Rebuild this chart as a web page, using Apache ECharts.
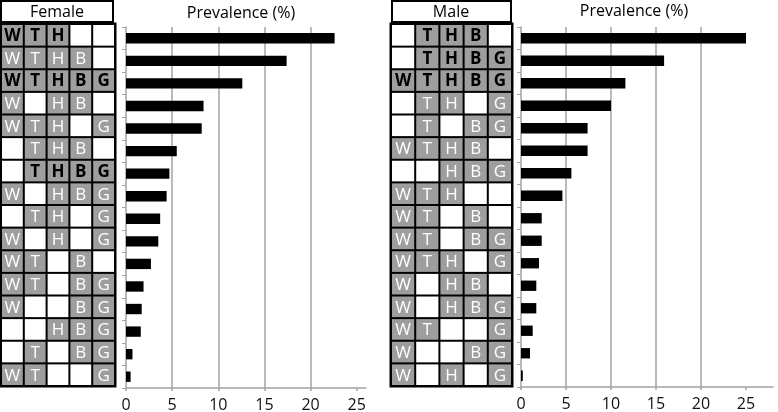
<!DOCTYPE html>
<html><head><meta charset="utf-8">
<script src="https://cdn.jsdelivr.net/npm/echarts@6.0.0/dist/echarts.min.js"></script>
<style>html,body{margin:0;padding:0;background:#fff}#c{width:778px;height:412px}</style>
</head><body><div id="c"></div>
<script>
const columns = ['W', 'T', 'H', 'B', 'G'];
const rowIds = ['1','2','3','4','5','6','7','8','9','10','11','12','13','14','15','16'];
const xTicks = [0, 5, 10, 15, 20, 25];

const femaleCombos = ['WTH','WTHB','WTHBG','WHB','WTHG','THB','THBG','WHBG','THG','WHG','WTB','WTBG','WBG','HBG','TBG','WTG'];
const femaleBold   = [1,0,1,0,0,0,1,0,0,0,0,0,0,0,0,0];
const femaleValues = [22.6,17.4,12.6,8.4,8.2,5.5,4.7,4.4,3.7,3.5,2.7,1.9,1.7,1.6,0.7,0.5];

const maleCombos = ['THB','THBG','WTHBG','THG','TBG','WTHB','HBG','WTH','WTB','WTBG','WTHG','WHB','WHBG','WTG','WBG','WHG'];
const maleBold   = [1,1,1,0,0,0,0,0,0,0,0,0,0,0,0,0];
const maleValues = [25.0,15.9,11.6,10.0,7.4,7.4,5.6,4.6,2.3,2.3,2.0,1.7,1.7,1.3,1.0,0.2];

const FONT = '"Open Sans", "Noto Sans", sans-serif';
const GRAY = '#a3a3a3';

function cellData(combos, bold) {
  const out = [];
  combos.forEach((c, i) => {
    columns.forEach((col, j) => {
      out.push([j, i, c.indexOf(col) >= 0 ? 1 : 0, bold[i]]);
    });
  });
  return out;
}

function renderCell(params, api) {
  const c = api.coord([api.value(0), api.value(1)]);
  const s = api.size([1, 1]);
  const present = api.value(2), bold = api.value(3);
  const children = [{
    type: 'rect',
    shape: { x: c[0] - s[0] / 2 + 1, y: c[1] - s[1] / 2 + 1, width: s[0] - 2, height: s[1] - 2 },
    style: { fill: present ? '#9e9e9e' : '#ffffff' }
  }];
  if (present) {
    children.push({
      type: 'text',
      style: {
        text: columns[api.value(0)], x: c[0], y: c[1] + 1,
        align: 'center', verticalAlign: 'middle',
        fill: bold ? '#000' : '#fff',
        font: (bold ? 'bold ' : '') + '17px ' + FONT
      }
    });
  }
  return { type: 'group', children };
}

const panels = [
  { table: { left: 1, top: 24, width: 114, height: 362 }, bars: { left: 126, top: 27, width: 240, height: 361 }, max: 26, combos: femaleCombos, bold: femaleBold, values: femaleValues },
  { table: { left: 391, top: 24, width: 121, height: 362 }, bars: { left: 521, top: 27, width: 252, height: 360 }, max: 28, combos: maleCombos, bold: maleBold, values: maleValues }
];

const grid = [], xAxis = [], yAxis = [], series = [];
panels.forEach((p, k) => {
  grid.push(Object.assign({ show: true, backgroundColor: '#000', borderColor: '#000', borderWidth: 3, outerBoundsMode: 'none', containLabel: false }, p.table));
  grid.push(Object.assign({ show: false, outerBoundsMode: 'none', containLabel: false }, p.bars));
  const gt = k * 2, gb = k * 2 + 1;
  xAxis.push({ gridIndex: gt, type: 'category', data: columns, show: false });
  yAxis.push({ gridIndex: gt, type: 'category', data: rowIds, inverse: true, show: false });
  xAxis.push({
    gridIndex: gb, type: 'value', min: xTicks[0], max: p.max, interval: xTicks[1] - xTicks[0],
    axisLine: { show: true, lineStyle: { color: GRAY, width: 1.5 } },
    axisTick: { show: true, length: 3, customValues: xTicks, lineStyle: { color: GRAY, width: 1.5 } },
    splitLine: { show: true, showMinLine: false, showMaxLine: false, lineStyle: { color: GRAY, width: 1.5 } },
    axisLabel: { showMaxLabel: false, margin: 9, fontSize: 16, color: '#111', fontFamily: FONT,
      formatter: v => (xTicks.indexOf(v) >= 0 ? String(v) : '') }
  });
  yAxis.push({
    gridIndex: gb, type: 'category', data: rowIds, inverse: true,
    axisLine: { show: true, lineStyle: { color: GRAY, width: 1.5 } },
    axisTick: { show: true, length: 4, lineStyle: { color: GRAY, width: 1 } },
    axisLabel: { show: false }
  });
  series.push({
    type: 'custom', xAxisIndex: gt, yAxisIndex: gt, renderItem: renderCell,
    data: cellData(p.combos, p.bold), silent: true, animation: false
  });
  series.push({
    type: 'bar', xAxisIndex: gb, yAxisIndex: gb, data: p.values, barWidth: '46%',
    itemStyle: { color: '#000' }, silent: true, animation: false
  });
});

const graphic = [
  { type: 'rect', shape: { x: 1, y: 1, width: 112, height: 21 }, style: { fill: '#fff', stroke: '#000', lineWidth: 2 } },
  { type: 'text', x: 57, y: 12, style: { text: 'Female', align: 'center', verticalAlign: 'middle', font: '16px ' + FONT, fill: '#000' } },
  { type: 'rect', shape: { x: 392, y: 1, width: 119, height: 21 }, style: { fill: '#fff', stroke: '#000', lineWidth: 2 } },
  { type: 'text', x: 451, y: 12, style: { text: 'Male', align: 'center', verticalAlign: 'middle', font: '16px ' + FONT, fill: '#000' } },
  { type: 'text', x: 241, y: 13, style: { text: 'Prevalence (%)', align: 'center', verticalAlign: 'middle', font: '16px ' + FONT, fill: '#000' } },
  { type: 'text', x: 634, y: 11, style: { text: 'Prevalence (%)', align: 'center', verticalAlign: 'middle', font: '16px ' + FONT, fill: '#000' } }
];

const chart = echarts.init(document.getElementById('c'), null, { renderer: 'canvas' });
chart.setOption({ animation: false, backgroundColor: '#fff', grid, xAxis, yAxis, series, graphic });
</script>
</body></html>
